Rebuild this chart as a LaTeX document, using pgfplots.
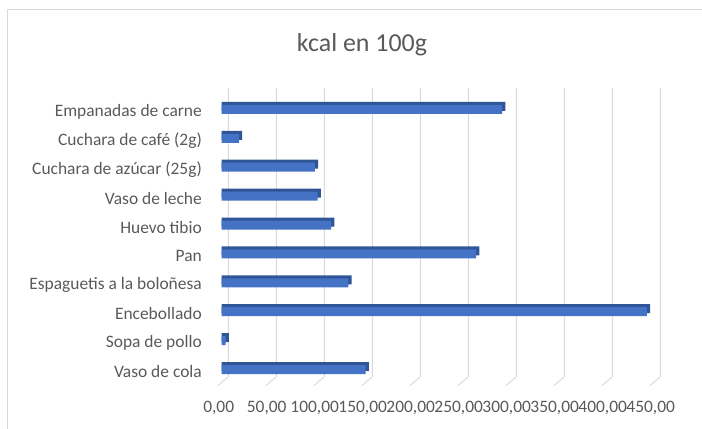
\documentclass[border=0pt]{standalone}
\usepackage{pgfplots}
\usepackage{pgfplotstable}
\pgfplotsset{compat=1.18}
\usepackage{fontspec}
\setmainfont{Carlito}
\definecolor{barblue}{HTML}{4472C4}
\definecolor{bardark}{HTML}{2F5597}
\definecolor{gridgray}{HTML}{D9D9D9}
\definecolor{txtgray}{HTML}{595959}
\pgfplotstableread{
idx val
0 150
1 4
2 443
3 132
4 265
5 114
6 100
7 97
8 18
9 292
}\kcal
\begin{document}
\begin{tikzpicture}
\useasboundingbox (-221.7bp,-47.5bp) rectangle (480.3bp,381.5bp);
\draw[gridgray, line width=1bp] (-213.7bp,-60bp) -- (-213.7bp,372bp) -- (500bp,372bp);
\node[anchor=base, font=\fontsize{26}{30}\selectfont, text=txtgray] at (140.3bp,329.8bp) {kcal en 100g};
\begin{axis}[
  scale only axis,
  width=432bp, height=289bp,
  xmin=0, xmax=450,
  ymin=-0.5, ymax=9.5,
  clip=false,
  axis line style={draw=none},
  major tick style={draw=none},
  xtick={0,50,...,450},
  ytick={0,...,9},
  yticklabels={Vaso de cola, Sopa de pollo, Encebollado, Espaguetis a la boloñesa, Pan, Huevo tibio, Vaso de leche, Cuchara de azúcar (25g), Cuchara de café (2g), Empanadas de carne},
  ticklabel style={font=\fontsize{17.5}{20}\selectfont, text=txtgray},
  yticklabel style={anchor=east, inner sep=0pt, xshift=-19.7bp, yshift=-4.5bp},
  xticklabel style={anchor=center, inner sep=0pt, yshift=-26.5bp, xshift=-3bp},
  /pgf/number format/.cd, fixed, fixed zerofill, precision=2, use comma, assume math mode=true,
]
% gridlines (back wall and floor)
\addplot[gridgray, line width=1bp, mark=none] coordinates {(6.9,9.656) (6.9,-0.334) (-4.2,-0.656)};
\addplot[gridgray, line width=1bp, mark=none] coordinates {(56.9,9.656) (56.9,-0.334) (45.8,-0.656)};
\addplot[gridgray, line width=1bp, mark=none] coordinates {(106.9,9.656) (106.9,-0.334) (95.8,-0.656)};
\addplot[gridgray, line width=1bp, mark=none] coordinates {(156.9,9.656) (156.9,-0.334) (145.8,-0.656)};
\addplot[gridgray, line width=1bp, mark=none] coordinates {(206.9,9.656) (206.9,-0.334) (195.8,-0.656)};
\addplot[gridgray, line width=1bp, mark=none] coordinates {(256.9,9.656) (256.9,-0.334) (245.8,-0.656)};
\addplot[gridgray, line width=1bp, mark=none] coordinates {(306.9,9.656) (306.9,-0.334) (295.8,-0.656)};
\addplot[gridgray, line width=1bp, mark=none] coordinates {(356.9,9.656) (356.9,-0.334) (345.8,-0.656)};
\addplot[gridgray, line width=1bp, mark=none] coordinates {(406.9,9.656) (406.9,-0.334) (395.8,-0.656)};
\addplot[gridgray, line width=1bp, mark=none] coordinates {(456.9,9.656) (456.9,-0.334) (445.8,-0.656)};
% depth faces (top and right side)
\addplot[xbar, bar width=9bp, bar shift=0.5bp, fill=bardark, draw=none] table[x expr=\thisrow{val}+3.4, y=idx] {\kcal};
% front faces
\addplot[xbar, bar width=9bp, bar shift=-2.5bp, fill=barblue, draw=none] table[x=val, y=idx] {\kcal};
\end{axis}
\end{tikzpicture}
\end{document}
